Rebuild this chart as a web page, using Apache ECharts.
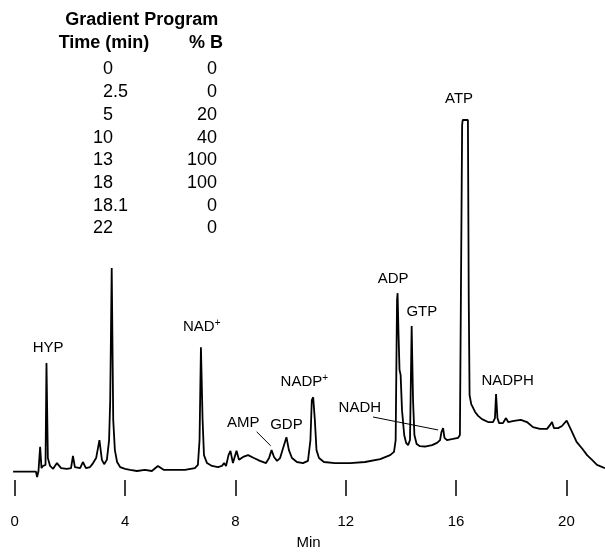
<!DOCTYPE html>
<html>
<head>
<meta charset="utf-8">
<script src="https://cdn.jsdelivr.net/npm/echarts@6/dist/echarts.min.js"></script>
<style>
  html, body { margin: 0; padding: 0; background: #fff; }
  #chart { width: 605px; height: 552px; }
</style>
</head>
<body>
<div id="chart"></div>
<script>
// retention time (min) and detector signal (arbitrary units, ATP top = 100)
const times = [
  -0.06, 0.77, 0.81, 0.86, 0.92, 0.97, 1.02, 1.115, 1.15, 1.2,
  1.28, 1.39, 1.53, 1.68, 1.89, 2.04, 2.11, 2.18, 2.37, 2.47, 2.58, 2.73, 2.84, 2.95, 3.07, 3.16, 3.24, 3.34, 3.42,
  3.46, 3.515, 3.57, 3.63, 3.71, 3.82,
  4.0, 4.18, 4.43, 4.72, 4.97, 5.19, 5.41, 5.81, 6.17, 6.53, 6.64,
  6.70, 6.75, 6.81, 6.86, 6.97,
  7.15, 7.37, 7.51, 7.59, 7.66, 7.75, 7.82, 7.91, 8.04, 8.13, 8.28, 8.46, 8.67, 8.89, 9.11, 9.22,
  9.31, 9.40, 9.51, 9.62, 9.73, 9.85, 9.94, 10.05, 10.23, 10.45, 10.63,
  10.72, 10.77, 10.82, 10.88, 10.94, 11.03, 11.21,
  11.61, 12.16, 12.7, 13.25, 13.61, 13.75,
  13.81, 13.86, 13.88, 13.91, 13.95, 13.99, 14.04, 14.12, 14.19, 14.26, 14.33, 14.39, 14.44, 14.49, 14.57,
  14.69, 14.87, 15.13, 15.31, 15.42, 15.47, 15.53, 15.58, 15.67, 15.89, 16.07, 16.14,
  16.22, 16.24, 16.43, 16.46, 16.49, 16.55, 16.69, 16.80, 16.94, 17.16, 17.34,
  17.41, 17.45, 17.5, 17.56, 17.7, 17.81, 17.89, 18.1, 18.35, 18.57, 18.79, 19.04, 19.3, 19.41, 19.48, 19.55, 19.7, 19.84, 20.01, 20.17, 20.37, 20.57, 20.75, 20.93, 21.11, 21.4
];
const signal = [
  2.3, 2.3, 0.8, 2.5, 9.2, 3.3, 3.9, 4.2, 32.5, 6.1,
  3.9, 3.1, 4.7, 3.3, 3.1, 3.3, 6.7, 3.6, 3.3, 5.0, 3.3, 3.6, 4.7, 6.1, 11.1, 5.6, 4.4, 5.6, 11.1,
  22, 58.9, 16.7, 8.3, 5.0, 3.6,
  3.1, 2.8, 2.5, 2.8, 2.5, 3.9, 2.8, 2.8, 2.8, 3.3, 4.2,
  11.1, 36.9, 16.7, 6.9, 4.7,
  3.9, 3.6, 3.9, 4.7, 3.9, 6.9, 8.1, 4.7, 8.1, 5.6, 6.4, 6.9, 6.1, 5.3, 4.7, 6.1,
  8.3, 6.4, 5.3, 6.1, 8.9, 11.9, 8.3, 6.1, 5.0, 4.7, 5.3,
  11.1, 22.2, 23.0, 16.7, 8.3, 6.1, 5.0,
  4.7, 4.7, 5.0, 5.8, 6.9, 7.8,
  11.1, 50.0, 51.9, 41.7, 30.6, 29.2, 19.4, 12.5, 10.3, 9.7, 11.1, 42.8, 22.2, 12.5, 10.0,
  9.4, 9.3, 9.7, 10.3, 11.1, 13.3, 14.4, 11.7, 11.1, 11.4, 11.7, 12.5,
  98.6, 100, 100, 50, 23.6, 21.1, 18.9, 17.8, 16.9, 16.1, 16.1,
  17.2, 23.9, 17.2, 15.8, 15.8, 17.2, 16.1, 16.4, 16.7, 16.1, 14.7, 14.2, 14.2, 15.3, 16.1, 14.4, 14.4, 15.0, 16.5, 13.9, 10.6, 8.75, 6.9, 5.6, 4.2, 3.3
];

const xTicks = [0, 4, 8, 12, 16, 20];

// peak names and where their labels sit (data units)
const peakNames = ['HYP', 'NAD+', 'AMP', 'GDP', 'NADP+', 'NADH', 'ADP', 'GTP', 'ATP', 'NADPH'];
const labelTimes = [1.21, 6.78, 8.28, 9.85, 10.5, 12.51, 13.72, 14.76, 16.11, 17.87];
const labelLevels = [36.8, 42.6, 15.8, 15.3, 27.3, 20.0, 56.0, 46.6, 105.8, 27.5];

// leader lines: [fromTime, fromLevel, toTime, toLevel]
const leaders = [
  [8.77, 13.4, 9.28, 9.5],
  [12.99, 17.5, 15.35, 13.9]
];

const gradientTime = ['0', '2.5', '5', '10', '13', '18', '18.1', '22'];
const gradientB = [0, 0, 20, 40, 100, 100, 0, 0];

const FONT = '"Liberation Sans", Arial, Helvetica, sans-serif';

const chart = echarts.init(document.getElementById('chart'), null, { renderer: 'canvas' });

function tableGraphics() {
  const txt = (text, x, y, align, bold) => ({
    type: 'text', x, y, silent: true,
    style: { text, font: (bold ? 'bold ' : '') + '18px ' + FONT, fill: '#000', textAlign: align, textVerticalAlign: 'middle' }
  });
  const g = [
    txt('Gradient Program', 141.7, 20, 'center', true),
    txt('Time (min)', 104, 43, 'center', true),
    txt('% B', 223, 43, 'right', true)
  ];
  gradientTime.forEach((t, i) => {
    const y = 69.5 + i * 22.7;
    const [whole, frac] = t.split('.');
    g.push(txt(whole, 113, y, 'right'));
    if (frac) g.push(txt('.' + frac, 113, y, 'left'));
    g.push(txt(String(gradientB[i]), 217, y, 'right'));
  });
  return g;
}

function peakLabel(name) {
  return name.endsWith('+') ? '{a|' + name.slice(0, -1) + '}{s|+}' : '{a|' + name + '}';
}

chart.setOption({
  backgroundColor: '#fff',
  animation: false,
  textStyle: { fontFamily: FONT },
  grid: { left: 12, right: 0, top: 84, bottom: 72, outerBoundsMode: 'none', containLabel: false },
  xAxis: {
    type: 'value', min: -0.1, max: 21.4, offset: 9,
    axisLine: { show: false },
    splitLine: { show: false },
    axisTick: { show: true, customValues: xTicks, length: 16, lineStyle: { color: '#000', width: 1.5 } },
    axisLabel: { customValues: xTicks, color: '#000', fontSize: 15, fontFamily: FONT, margin: 25 },
    name: 'Min', nameLocation: 'middle', nameGap: 46,
    nameTextStyle: { color: '#000', fontSize: 15, fontFamily: FONT }
  },
  yAxis: { type: 'value', min: 0, max: 110, show: false },
  graphic: tableGraphics(),
  series: [
    {
      type: 'line',
      data: times.map((t, i) => [t, signal[i]]),
      symbol: 'none',
      clip: false,
      lineStyle: { color: '#000', width: 1.8 },
      markLine: {
        silent: true, symbol: 'none', animation: false,
        lineStyle: { color: '#000', width: 1, type: 'solid' },
        label: { show: false },
        data: leaders.map((l) => [{ coord: [l[0], l[1]] }, { coord: [l[2], l[3]] }])
      }
    },
    {
      type: 'scatter',
      symbolSize: 1,
      itemStyle: { color: 'rgba(255,255,255,0)' },
      silent: true,
      clip: false,
      data: peakNames.map((n, i) => ({ name: n, value: [labelTimes[i], labelLevels[i]] })),
      label: {
        show: true, position: 'inside', color: '#000', opacity: 1,
        textBorderWidth: 0,
        formatter: (p) => peakLabel(p.name),
        rich: {
          a: { fontSize: 15, color: '#000', fontFamily: FONT, textBorderWidth: 0 },
          s: { fontSize: 10, color: '#000', fontFamily: FONT, textBorderWidth: 0, padding: [0, 0, 7, 0] }
        }
      }
    }
  ]
});
</script>
</body>
</html>
